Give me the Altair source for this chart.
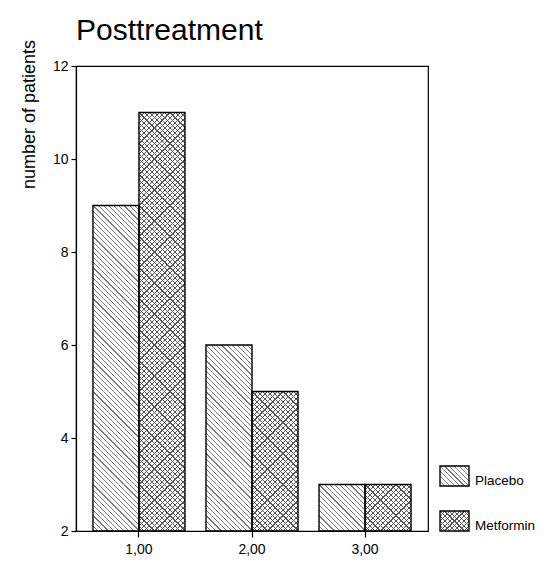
import altair as alt
import pandas as pd

# ---- data -------------------------------------------------------------
categories = ["1,00", "2,00", "3,00"]
series = ["Placebo", "Metformin"]
placebo = [9, 6, 3]
metformin = [11, 5, 3]
y_ticks = [2, 4, 6, 8, 10, 12]
y_domain = [2, 12]

rows = []
for name, vals in zip(series, [placebo, metformin]):
    for cat, v in zip(categories, vals):
        rows.append({"category": cat, "group": name, "patients": v})
df = pd.DataFrame(rows)
legend_df = pd.DataFrame({"group": series})

FONT = "Liberation Sans"
W, H = 352, 465
UNIT_H = H / (y_domain[1] - y_domain[0])   # pixel height of one y unit
BAR_W = 46


def hatch(w, h, period, width, color, direction):
    """Linear-gradient fill that renders as parallel diagonal lines."""
    span = w + h
    a = span / (w * w + h * h)
    clear = "rgba(0,0,0,0)"
    stops = []
    k = 0
    while k * period - width / 2 <= span:
        c = k * period
        lo = max(0.0, (c - width / 2) / span)
        hi = min(1.0, (c + width / 2) / span)
        for off, col in ((lo, clear), (lo, color), (hi, color), (hi, clear)):
            stops.append(alt.GradientStop(offset=round(off, 5), color=col))
        k += 1
    if direction == "back":      # lines running top-left -> bottom-right
        x1, y1, x2, y2 = 0, 1, a * w, 1 - a * h
    else:                        # lines running bottom-left -> top-right
        x1, y1, x2, y2 = 0, 0, a * w, a * h
    return alt.LinearGradient(gradient="linear", stops=stops,
                              x1=x1, y1=y1, x2=round(x2, 5), y2=round(y2, 5))


PERIOD = UNIT_H / 9
bar_back_light = hatch(BAR_W, UNIT_H, PERIOD, 1.2, "#7c7c7c", "back")
bar_back_dark = hatch(BAR_W, UNIT_H, PERIOD, 1.1, "#555555", "back")
bar_fwd_dark = hatch(BAR_W, UNIT_H, PERIOD, 1.1, "#555555", "fwd")

SW, SH = 29, 20
sw_back_light = hatch(SW, SH, 4.9, 1.2, "#7c7c7c", "back")
sw_back_dark = hatch(SW, SH, 4.9, 1.1, "#555555", "back")
sw_fwd_dark = hatch(SW, SH, 4.9, 1.1, "#555555", "fwd")

x_enc = alt.X("category:N", sort=categories, title=None,
              scale=alt.Scale(paddingInner=0.186, paddingOuter=0.15),
              axis=alt.Axis(labelAngle=0, tickSize=6, labelPadding=5,
                            labelFontSize=14, labelFont=FONT,
                            labelColor="black", tickColor="black",
                            domainColor="black", tickWidth=1.2, domainWidth=1.2))
xo_enc = alt.XOffset("group:N", sort=series,
                     scale=alt.Scale(domain=series, paddingInner=0, paddingOuter=0))

# each bar is filled in unit-high pieces so the hatching stays seamless
segments = (
    alt.Chart(df)
    .transform_calculate(seg="sequence(2, datum.patients)")
    .transform_flatten(["seg"])
    .transform_calculate(seg_top="datum.seg + 1")
)


def seg_layer(name, fill):
    return (
        segments.transform_filter(alt.datum.group == name)
        .mark_bar(fill=fill, strokeWidth=0)
        .encode(
            x=x_enc,
            xOffset=xo_enc,
            y=alt.Y("seg:Q", scale=alt.Scale(domain=y_domain, nice=False, zero=False),
                    title="number of patients",
                    axis=alt.Axis(values=y_ticks, format="d", grid=False, tickSize=5,
                                  labelPadding=3, labelFontSize=14, labelFont=FONT,
                                  labelColor="black", tickColor="black",
                                  domainColor="black", tickWidth=1.2, domainWidth=1.2,
                                  titleFont=FONT, titleFontSize=18,
                                  titleFontWeight="normal", titleColor="black",
                                  titleAngle=270, titleAlign="center",
                                  titleBaseline="alphabetic",
                                  titleX=-42, titleY=48)),
            y2="seg_top:Q",
        )
    )


placebo_fill = seg_layer("Placebo", bar_back_light)
metformin_fill_a = seg_layer("Metformin", bar_back_dark)
metformin_fill_b = seg_layer("Metformin", bar_fwd_dark)

outlines = alt.Chart(df).mark_bar(fill="transparent", stroke="black", strokeWidth=1.4).encode(
    x=x_enc,
    xOffset=xo_enc,
    y=alt.Y("patients:Q"),
    y2=alt.datum(y_domain[0]),
)

# ---- legend -----------------------------------------------------------
LX, LX2 = 364, 393
LEG_Y = {"Placebo": 400, "Metformin": 445}
leg_layers = []
for name, fills in (("Placebo", [sw_back_light]), ("Metformin", [sw_back_dark, sw_fwd_dark])):
    src = alt.Chart(legend_df).transform_filter(alt.datum.group == name)
    y0 = LEG_Y[name]
    for f in fills:
        leg_layers.append(src.mark_rect(fill=f, strokeWidth=0).encode(
            x=alt.value(LX), x2=alt.value(LX2), y=alt.value(y0), y2=alt.value(y0 + SH)))
    leg_layers.append(src.mark_rect(fill="transparent", stroke="black", strokeWidth=1.4).encode(
        x=alt.value(LX), x2=alt.value(LX2), y=alt.value(y0), y2=alt.value(y0 + SH)))
    leg_layers.append(src.mark_text(align="left", baseline="alphabetic", fontSize=13.5,
                                    font=FONT, color="black").encode(
        x=alt.value(LX2 + 6), y=alt.value(y0 + 19), text="group:N"))

chart = (
    alt.layer(placebo_fill, metformin_fill_a, metformin_fill_b, outlines, *leg_layers)
    .properties(
        width=W,
        height=H,
        background="white",
        title=alt.TitleParams("Posttreatment", anchor="start", frame="group", font=FONT,
                              fontSize=30, fontWeight="normal", color="black",
                              baseline="alphabetic", offset=1, dy=32),
        autosize=alt.AutoSizeParams(type="none"),
        padding={"left": 76, "top": 66, "right": 123, "bottom": 30},
    )
    .configure_view(stroke="black", strokeWidth=1.2)
)

chart.save("out.html", embed_options={"renderer": "svg", "actions": False})
